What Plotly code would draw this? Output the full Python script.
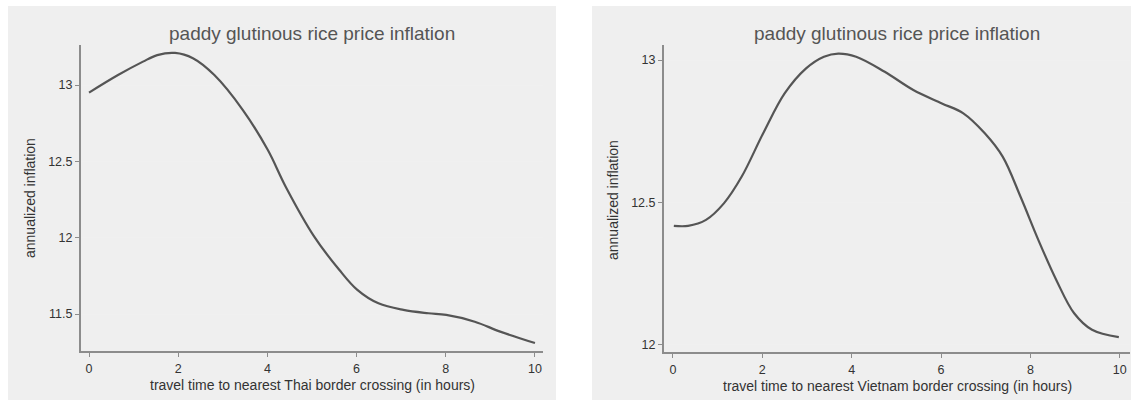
import plotly.graph_objects as go

# ---- data ----
thai_x = [0.0, 0.65, 1.21, 1.53, 1.93, 2.33, 2.81, 3.45, 4.01, 4.41, 5.05, 5.61, 6.01, 6.49, 7.05, 7.61, 8.01, 8.65, 9.22, 10.0]
thai_y = [12.95, 13.065, 13.153, 13.196, 13.21, 13.175, 13.065, 12.836, 12.574, 12.334, 12.007, 11.79, 11.66, 11.57, 11.527, 11.505, 11.494, 11.45, 11.385, 11.31]

viet_x = [0.02, 0.34, 0.74, 1.14, 1.54, 2.02, 2.50, 2.98, 3.38, 3.70, 4.10, 4.74, 5.38, 6.02, 6.50, 6.98, 7.38, 7.78, 8.18, 8.58, 8.98, 9.38, 9.98]
viet_y = [12.418, 12.418, 12.439, 12.497, 12.591, 12.743, 12.883, 12.971, 13.012, 13.023, 13.012, 12.959, 12.895, 12.848, 12.813, 12.743, 12.661, 12.52, 12.368, 12.228, 12.111, 12.053, 12.027]

x_ticks = [0, 2, 4, 6, 8, 10]
thai_yticks = [11.5, 12, 12.5, 13]
viet_yticks = [12, 12.5, 13]

title_text = "paddy glutinous rice price inflation"
thai_xlabel = "travel time to nearest Thai border crossing (in hours)"
viet_xlabel = "travel time to nearest Vietnam border crossing (in hours)"
ylabel = "annualized inflation"

W, H = 1131, 400
FONT = "Liberation Sans, Arial, sans-serif"
LINE = "#555555"
AXIS = "#8c8c8c"
PANEL = "#efefef"

fig = go.Figure()
fig.add_trace(go.Scatter(x=thai_x, y=thai_y, mode="lines", line=dict(color=LINE, width=2.2, shape="spline", smoothing=1.0),
                         xaxis="x", yaxis="y", showlegend=False, hoverinfo="skip"))
fig.add_trace(go.Scatter(x=viet_x, y=viet_y, mode="lines", line=dict(color=LINE, width=2.2, shape="spline", smoothing=1.0),
                         xaxis="x2", yaxis="y2", showlegend=False, hoverinfo="skip"))

def px(x):
    return x / W

def py(y):
    return 1 - y / H

axis_common = dict(showline=True, linecolor=AXIS, linewidth=2, ticks="outside", ticklen=4, tickwidth=1,
                   tickcolor=AXIS, tickfont=dict(family=FONT, size=12.5, color="#333333"), zeroline=False)

fig.update_layout(
    width=W, height=H,
    margin=dict(l=0, r=0, t=0, b=0),
    paper_bgcolor="white",
    plot_bgcolor="white",
    xaxis=dict(domain=[px(81), px(543)], range=[-0.18, 10.18], tickvals=x_ticks, showgrid=False, anchor="y",
               ticklabelstandoff=1, **axis_common),
    yaxis=dict(domain=[py(351), py(45)], range=[11.258, 13.262], tickvals=thai_yticks, ticktext=[str(v) for v in thai_yticks],
               showgrid=True, gridcolor="#f0f0f0", gridwidth=1, anchor="x", **axis_common),
    xaxis2=dict(domain=[px(664), px(1130)], range=[-0.2, 10.23], tickvals=x_ticks, showgrid=False, anchor="y2",
                ticklabelstandoff=1, **axis_common),
    yaxis2=dict(domain=[py(352), py(45)], range=[11.975, 13.053], tickvals=viet_yticks, ticktext=[str(v) for v in viet_yticks],
                showgrid=True, gridcolor="#f0f0f0", gridwidth=1, anchor="x2", **axis_common),
    shapes=[
        dict(type="rect", xref="paper", yref="paper", x0=px(8), x1=px(556), y0=0, y1=py(6),
             fillcolor=PANEL, line=dict(width=0), layer="below"),
        dict(type="rect", xref="paper", yref="paper", x0=px(592), x1=1, y0=0, y1=py(6),
             fillcolor=PANEL, line=dict(width=0), layer="below"),
    ],
)

ann = []
for cx, cy, text, size, color, angle in [
    (312, 33, title_text, 19, "#555555", 0),
    (897, 33, title_text, 19, "#555555", 0),
    (312, 385, thai_xlabel, 14, "#333333", 0),
    (897, 386, viet_xlabel, 14, "#333333", 0),
    (30, 198, ylabel, 14, "#333333", -90),
    (613, 200, ylabel, 14, "#333333", -90),
]:
    ann.append(dict(x=px(cx), y=py(cy), xref="paper", yref="paper", text=text, showarrow=False,
                    xanchor="center", yanchor="middle", textangle=angle,
                    font=dict(family=FONT, size=size, color=color)))
fig.update_layout(annotations=ann)

fig.write_html("out.html")
